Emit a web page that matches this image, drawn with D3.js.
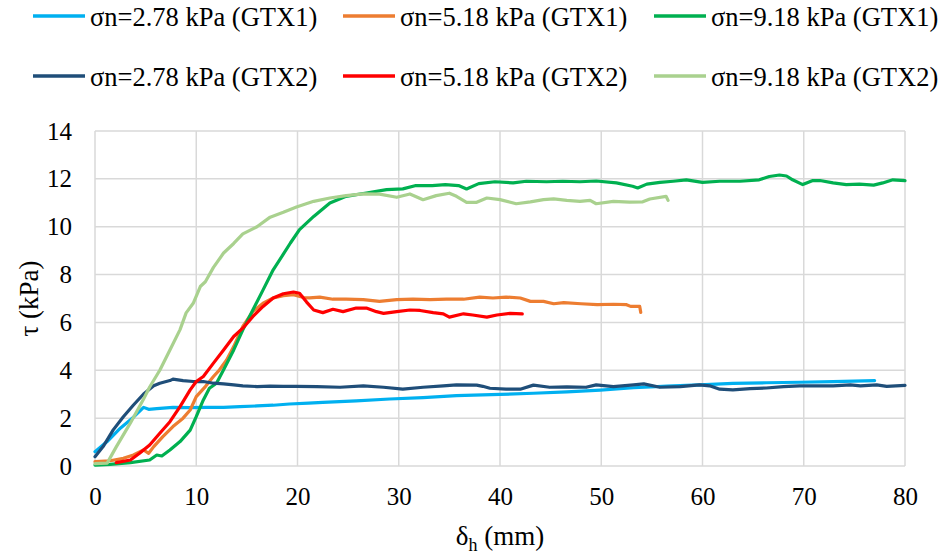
<!DOCTYPE html>
<html><head><meta charset="utf-8">
<script src="https://cdn.jsdelivr.net/npm/d3@7"></script>
<style>body{margin:0;background:#fff}svg{display:block}</style>
</head><body><div id="chart"></div>
<script>
const seriesNames = ["σn=2.78 kPa (GTX1)","σn=5.18 kPa (GTX1)","σn=9.18 kPa (GTX1)","σn=2.78 kPa (GTX2)","σn=5.18 kPa (GTX2)","σn=9.18 kPa (GTX2)"];
const seriesColors = ["#00B0F0","#ED7D31","#00B050","#1F4E79","#FF0000","#A9D18E"];
const xTicks = [0,10,20,30,40,50,60,70,80];
const yTicks = [0,2,4,6,8,10,12,14];

const gtx1_278 = [[0,0.6],[1.2,1.02],[2.5,1.58],[3.8,2.04],[4.8,2.45],[5.3,2.37],[6.1,2.4],[7.7,2.45],[9.4,2.44],[11,2.45],[12.7,2.45],[14.3,2.48],[16,2.51],[17.6,2.54],[19.2,2.59],[21.1,2.63],[22.5,2.66],[25.8,2.72],[29.1,2.8],[32.4,2.86],[35.7,2.94],[40,2.99],[43.3,3.04],[46.6,3.1],[49.9,3.17],[53.2,3.27],[56.5,3.34],[59.7,3.39],[63,3.45],[66.3,3.48],[69.6,3.5],[72.9,3.53],[77,3.57]];
const gtx1_518 = [[0,0.18],[1.5,0.22],[2.8,0.32],[3.8,0.46],[4.8,0.67],[5.3,0.53],[5.8,0.81],[6.7,1.23],[7.7,1.65],[8.7,2.0],[9.4,2.34],[10,2.9],[10.9,3.32],[11.7,3.74],[12.3,4.02],[13,4.43],[13.7,4.99],[14.6,5.83],[15.6,6.46],[16.6,6.8],[17.6,7.02],[18.6,7.12],[19.6,7.16],[20.6,7.04],[21.2,7.03],[22.2,7.06],[23.5,6.97],[24.8,6.97],[26.5,6.95],[28.1,6.88],[29.8,6.95],[31.4,6.97],[33.1,6.95],[34.7,6.97],[36.4,6.97],[38,7.06],[39.3,7.02],[40.6,7.06],[42,7.02],[43,6.88],[44.3,6.88],[45.3,6.78],[46.3,6.83],[48,6.78],[49.6,6.74],[51.2,6.76],[52.5,6.74],[52.9,6.67],[53.8,6.67],[53.9,6.42]];
const gtx1_918 = [[0,0.04],[1.5,0.07],[3.5,0.14],[5.4,0.25],[6.1,0.46],[6.6,0.42],[7.4,0.67],[8.4,1.02],[9.4,1.5],[10,2.06],[10.7,2.76],[11.3,3.25],[12,3.46],[12.7,4.02],[13.7,4.85],[14.6,5.69],[15.6,6.53],[16.6,7.36],[17.6,8.2],[18.6,8.85],[19.3,9.32],[20.2,9.88],[21.6,10.43],[23.2,10.99],[24.8,11.27],[26.8,11.41],[28.8,11.55],[30.4,11.58],[31.7,11.72],[33.3,11.72],[34.6,11.76],[35.9,11.72],[36.7,11.58],[37.9,11.8],[39.5,11.88],[41.3,11.83],[42.6,11.9],[44.6,11.88],[46.2,11.9],[47.9,11.88],[49.5,11.91],[51.5,11.83],[53.1,11.69],[53.6,11.62],[54.5,11.78],[55.8,11.85],[57.1,11.9],[58.4,11.96],[60,11.85],[61.7,11.9],[63.7,11.9],[65.6,11.96],[66.6,12.1],[67.6,12.16],[68.3,12.12],[68.9,11.96],[69.9,11.76],[70.9,11.93],[71.6,11.93],[72.9,11.83],[74.2,11.76],[75.5,11.78],[76.9,11.74],[77.8,11.83],[78.8,11.96],[80,11.93]];
const gtx2_278 = [[0,0.39],[0.8,0.81],[1.8,1.51],[2.8,2.06],[3.8,2.55],[4.8,3.01],[5.8,3.35],[6.4,3.46],[7.4,3.57],[7.7,3.63],[8.7,3.57],[9.7,3.53],[10.7,3.53],[11.7,3.46],[12.7,3.43],[13.7,3.39],[14.6,3.35],[16,3.32],[17.3,3.34],[18.6,3.33],[19.9,3.33],[21.9,3.32],[24.2,3.29],[26.5,3.35],[28.5,3.29],[30.4,3.21],[32.4,3.29],[34.4,3.35],[35.7,3.39],[37.7,3.38],[38.3,3.33],[39,3.25],[40.6,3.21],[42,3.21],[43.3,3.38],[44.9,3.29],[46.6,3.31],[48.5,3.29],[49.5,3.39],[51.2,3.32],[53.2,3.39],[54.2,3.43],[55.8,3.29],[57.8,3.32],[59.7,3.39],[60.7,3.35],[61.7,3.21],[63,3.18],[64.7,3.23],[66.3,3.26],[68,3.32],[69.6,3.35],[71.2,3.35],[72.9,3.35],[74.6,3.39],[75.6,3.35],[77.2,3.39],[78.2,3.33],[80,3.37]];
const gtx2_518 = [[2.1,0.14],[3.5,0.25],[4.4,0.53],[5.4,0.88],[6.4,1.37],[7.4,1.85],[8.4,2.48],[9.4,3.18],[10,3.53],[10.7,3.74],[11.7,4.3],[12.7,4.85],[13.7,5.41],[14.6,5.76],[15.6,6.25],[16.6,6.67],[17.6,7.02],[18.6,7.2],[19.6,7.27],[20.2,7.22],[20.9,6.85],[21.6,6.52],[22.5,6.41],[23.5,6.55],[24.5,6.45],[25.8,6.6],[26.8,6.6],[27.8,6.45],[28.5,6.38],[29.8,6.45],[31.1,6.52],[32.1,6.5],[33.4,6.41],[34.4,6.36],[35,6.22],[36.4,6.36],[37.3,6.31],[38.7,6.22],[39.7,6.31],[41,6.38],[42.2,6.36]];
const gtx2_918 = [[0,0.1],[1.2,0.12],[2.1,0.8],[3.5,1.8],[4.8,2.8],[5.4,3.3],[6.4,4.0],[7.4,4.85],[8.4,5.7],[9,6.4],[9.7,6.8],[10.4,7.5],[10.9,7.7],[11.7,8.3],[12.7,8.9],[13.7,9.3],[14.6,9.7],[16,10.0],[17.3,10.4],[18.6,10.6],[19.9,10.82],[21.6,11.06],[23.2,11.2],[24.8,11.3],[26.5,11.37],[28.1,11.36],[29.8,11.23],[31.1,11.37],[32.4,11.13],[33.7,11.3],[35,11.4],[35.7,11.27],[36.7,11.02],[37.7,11.02],[38.7,11.2],[40,11.13],[41.6,10.96],[43,11.04],[44.3,11.13],[45.3,11.16],[46.6,11.1],[47.9,11.06],[48.9,11.1],[49.5,10.96],[51.2,11.06],[52.8,11.03],[54.1,11.04],[54.8,11.16],[56.4,11.27],[56.6,11.1]];
const seriesData = [gtx1_278, gtx1_518, gtx1_918, gtx2_278, gtx2_518, gtx2_918];

const FONT = "Liberation Serif";
const W = 940, H = 557;
const m = {left:95, right:35, top:131, bottom:91};
const svg = d3.select("#chart").append("svg").attr("width", W).attr("height", H)
  .attr("font-family", FONT);
const x = d3.scaleLinear().domain([0,80]).range([m.left, W - m.right]);
const y = d3.scaleLinear().domain([0,14]).range([H - m.bottom, m.top]);

// grid
svg.append("g").selectAll("line").data(yTicks).join("line")
  .attr("x1", x(0)).attr("x2", x(80)).attr("y1", d => y(d)).attr("y2", d => y(d))
  .attr("stroke", "#d9d9d9").attr("stroke-width", 1.5);
svg.append("g").selectAll("line").data(xTicks).join("line")
  .attr("y1", y(0)).attr("y2", y(14)).attr("x1", d => x(d)).attr("x2", d => x(d))
  .attr("stroke", "#d9d9d9").attr("stroke-width", 1.5);

// axes labels
const xAxis = svg.append("g").attr("transform", `translate(0,${y(0)})`)
  .call(d3.axisBottom(x).tickValues(xTicks).tickSize(0).tickPadding(21));
const yAxis = svg.append("g").attr("transform", `translate(${x(0)},0)`)
  .call(d3.axisLeft(y).tickValues(yTicks).tickSize(0).tickPadding(23));
[xAxis, yAxis].forEach(a => {
  a.attr("font-family", FONT).attr("font-size", 25);
  a.select(".domain").remove();
  a.selectAll("text").attr("fill", "#000");
});

// series
const line = d3.line().x(d => x(d[0])).y(d => y(d[1]));
seriesData.forEach((s, i) => {
  svg.append("path").datum(s).attr("d", line).attr("fill", "none")
    .attr("stroke", seriesColors[i]).attr("stroke-width", 3.2)
    .attr("stroke-linejoin", "round").attr("stroke-linecap", "round");
});

// axis titles
const xt = svg.append("text").attr("x", (x(0) + x(80)) / 2).attr("y", 545).attr("fill", "#000")
  .attr("text-anchor", "middle").attr("font-family", FONT).attr("font-size", 27);
xt.append("tspan").text("δ");
xt.append("tspan").text("h").attr("font-size", 18).attr("dy", 6);
xt.append("tspan").text(" (mm)").attr("dy", -6);
svg.append("text").attr("transform", `translate(38,${(y(0)+y(14))/2}) rotate(-90)`)
  .attr("text-anchor", "middle").attr("fill", "#000")
  .attr("font-family", FONT).attr("font-size", 27).text("τ (kPa)");

// legend
const legX = [33, 343, 654], legY = [16, 76];
seriesNames.forEach((n, i) => {
  const g = svg.append("g").attr("transform", `translate(${legX[i%3]},${legY[Math.floor(i/3)]})`);
  g.append("line").attr("x1", 0).attr("x2", 52).attr("y1", 0).attr("y2", 0)
    .attr("stroke", seriesColors[i]).attr("stroke-width", 3.5);
  g.append("text").attr("x", 57).attr("y", 10).attr("fill", "#000")
    .attr("font-family", FONT).attr("font-size", 26.5).text(n);
});
</script></body></html>
